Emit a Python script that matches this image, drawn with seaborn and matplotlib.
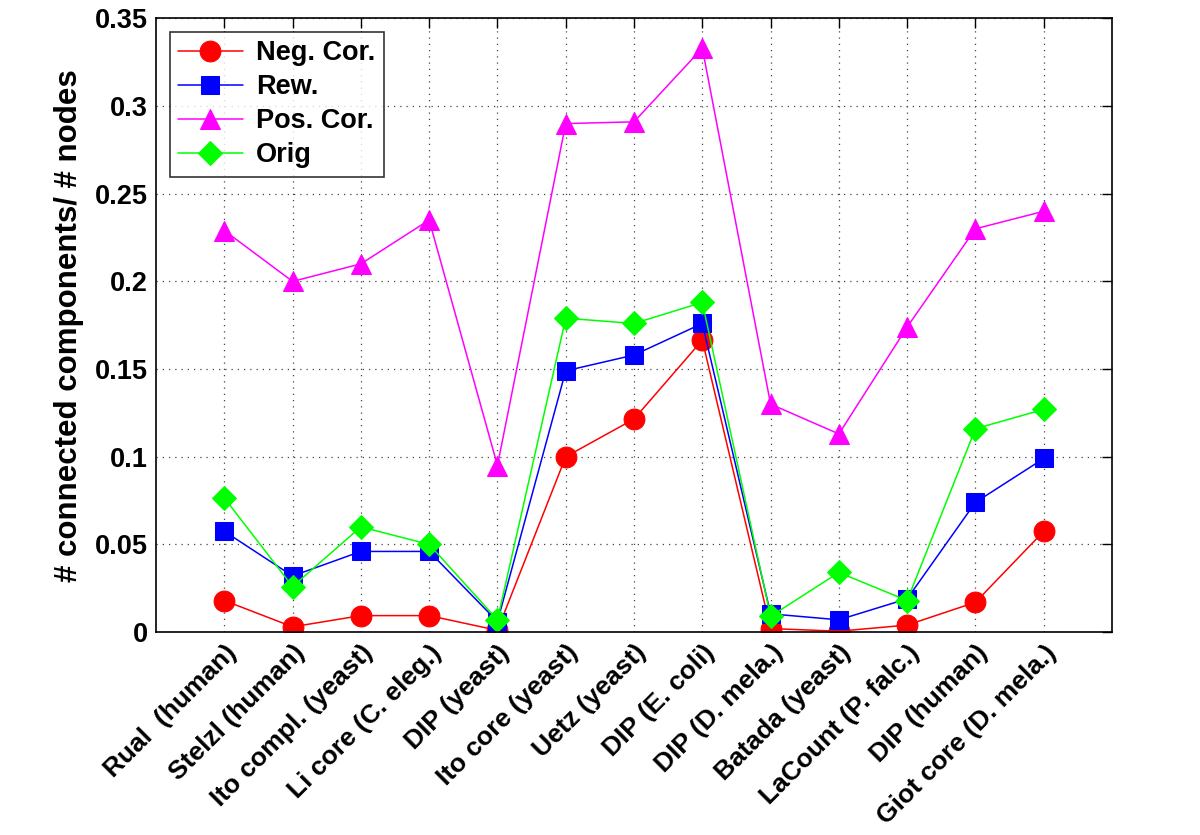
import matplotlib
matplotlib.use("Agg")
import matplotlib.pyplot as plt
import seaborn as sns
import pandas as pd

categories = ["Rual  (human)", "Stelzl (human)", "Ito compl. (yeast)", "Li core (C. eleg.)",
              "DIP (yeast)", "Ito core (yeast)", "Uetz (yeast)", "DIP (E. coli)",
              "DIP (D. mela.)", "Batada (yeast)", "LaCount (P. falc.)", "DIP (human)",
              "Giot core (D. mela.)"]
neg_cor = [0.018, 0.003, 0.0094, 0.0094, 0.001, 0.100, 0.1215, 0.1665, 0.002, 0.0005, 0.004, 0.017, 0.0575]
rew = [0.0575, 0.032, 0.046, 0.046, 0.006, 0.149, 0.158, 0.176, 0.0104, 0.007, 0.019, 0.074, 0.099]
pos_cor = [0.229, 0.200, 0.210, 0.235, 0.095, 0.290, 0.291, 0.333, 0.130, 0.113, 0.174, 0.230, 0.240]
orig = [0.0765, 0.026, 0.060, 0.050, 0.007, 0.179, 0.176, 0.188, 0.009, 0.034, 0.018, 0.116, 0.127]
yticks = [0, 0.05, 0.1, 0.15, 0.2, 0.25, 0.3, 0.35]
ytick_labels = ["0", "0.05", "0.1", "0.15", "0.2", "0.25", "0.3", "0.35"]

sns.set_style("white")
plt.rcParams["font.family"] = ["Liberation Sans", "DejaVu Sans"]
plt.rcParams["font.weight"] = "bold"
plt.rcParams["text.color"] = "black"
plt.rcParams["axes.labelcolor"] = "black"
plt.rcParams["xtick.color"] = "black"
plt.rcParams["ytick.color"] = "black"

x = list(range(1, len(categories) + 1))
fig = plt.figure(figsize=(12, 8.35), dpi=100)
ax = fig.add_axes([0.13, 0.243, 0.7967, 0.735])

series = [
    ("Neg. Cor.", neg_cor, "#ff0000", "o", 15),
    ("Rew.", rew, "#0000ff", "s", 12.5),
    ("Pos. Cor.", pos_cor, "#ff00ff", "^", 15),
    ("Orig", orig, "#00ff00", "D", 12),
]
for name, vals, col, mk, ms in series:
    df = pd.DataFrame({"x": x, "y": vals})
    sns.lineplot(data=df, x="x", y="y", ax=ax, color=col, marker=mk, markersize=ms,
                 markeredgecolor=col, markerfacecolor=col, linewidth=1.1, label=name)

ax.set_xlim(0, 14)
ax.set_ylim(0, 0.35)
ax.set_xticks(x)
ax.set_xticklabels(categories, rotation=45, ha="right", rotation_mode="anchor",
                   fontsize=19, fontweight="bold", color="black")
ax.set_yticks(yticks)
ax.set_yticklabels(ytick_labels, fontsize=19.5, fontweight="bold", color="black")
ax.set_xlabel("")
ax.set_ylabel("# connected components/ # nodes", fontsize=22.5, fontweight="bold",
              labelpad=8, color="black")

ax.grid(True, linestyle=(0, (1, 4)), color="#444444", linewidth=0.9)
ax.tick_params(direction="in", length=7, width=1, top=True, right=True, pad=6, colors="black")
for sp in ax.spines.values():
    sp.set_visible(True)
    sp.set_color("black")
    sp.set_linewidth(1.2)

leg = ax.legend(loc="upper left", fontsize=19.5, frameon=True, fancybox=False,
                edgecolor="black", borderpad=0.3, handlelength=2.4, labelspacing=0.3,
                borderaxespad=0.5, handletextpad=0.5)
leg.get_frame().set_linewidth(1.2)
for t in leg.get_texts():
    t.set_fontweight("bold")
    t.set_color("black")

fig.savefig("out.png", dpi=100)
